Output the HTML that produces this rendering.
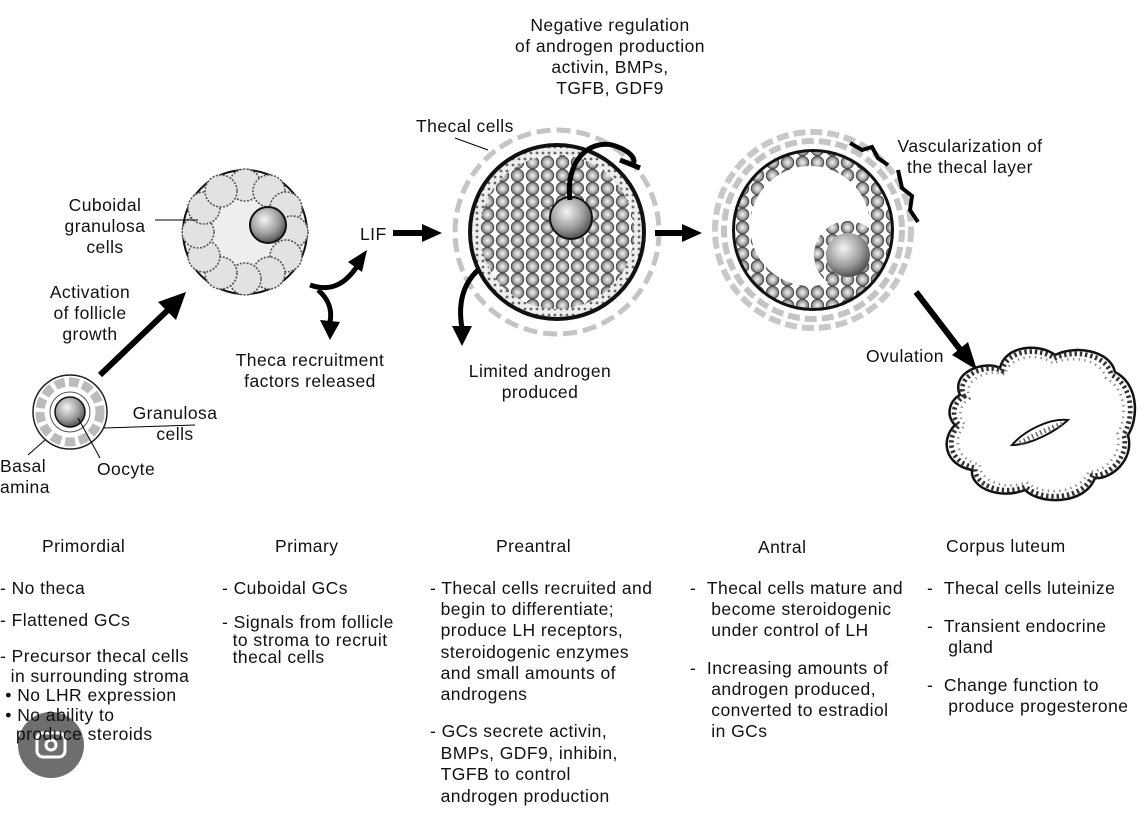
<!DOCTYPE html>
<html><head><meta charset="utf-8"><style>
body{margin:0;background:#fff;}
.w{position:relative;width:1146px;height:818px;overflow:hidden;font-family:"Liberation Sans",sans-serif;color:#111;font-size:17.5px;letter-spacing:0.45px;}
.t{position:absolute;line-height:21px;white-space:nowrap;}
.c{text-align:center;}
</style></head><body><div class="w">
<svg width="1146" height="818" style="position:absolute;left:0;top:0">
<defs>
<radialGradient id="oo" cx="0.4" cy="0.35" r="0.7"><stop offset="0" stop-color="#f4f4f4"/><stop offset="0.6" stop-color="#999"/><stop offset="1" stop-color="#444"/></radialGradient>
<radialGradient id="gc" cx="0.5" cy="0.5" r="0.5"><stop offset="0" stop-color="#f4f4f4"/><stop offset="0.6" stop-color="#b0b0b0"/><stop offset="1" stop-color="#606060"/></radialGradient>
<pattern id="cells" width="15" height="13" patternUnits="userSpaceOnUse">
<rect width="15" height="13" fill="#fff"/>
<circle cx="7.5" cy="6.5" r="6.3" fill="url(#gc)" stroke="#444" stroke-width="0.8"/>
</pattern>
<pattern id="dots" width="6" height="6" patternUnits="userSpaceOnUse"><rect width="6" height="6" fill="#eee"/><circle cx="3" cy="3" r="1.4" fill="#666"/></pattern>
</defs>
<circle cx="70" cy="412" r="37" fill="#fff" stroke="#222" stroke-width="1.5"/>
<circle cx="70" cy="412" r="30" fill="none" stroke="#bbb" stroke-width="9" stroke-dasharray="10 4"/>
<circle cx="70" cy="412" r="20" fill="none" stroke="#555" stroke-width="1"/>
<circle cx="70" cy="412" r="15" fill="url(#oo)" stroke="#111" stroke-width="1.5"/>
<line x1="104" y1="428" x2="195" y2="425" stroke="#000"/>
<line x1="45" y1="440" x2="28" y2="455" stroke="#000"/>
<line x1="78" y1="418" x2="100" y2="458" stroke="#000"/>
<line x1="100" y1="375" x2="170" y2="308" stroke="#000" stroke-width="6"/>
<path d="M186,292 L158,302 L176,320z" fill="#000"/>
<circle cx="245" cy="232" r="62" fill="#eee" stroke="#111" stroke-width="2"/>
<g fill="#e2e2e2" stroke="#555" stroke-width="1.6" stroke-dasharray="2 1.5">
<circle cx="245" cy="185" r="16"/><circle cx="269" cy="191" r="16"/><circle cx="286" cy="208" r="16"/><circle cx="292" cy="232" r="16"/><circle cx="286" cy="256" r="16"/><circle cx="269" cy="273" r="16"/><circle cx="245" cy="279" r="16"/><circle cx="221" cy="273" r="16"/><circle cx="204" cy="256" r="16"/><circle cx="198" cy="232" r="16"/><circle cx="204" cy="208" r="16"/><circle cx="221" cy="191" r="16"/>
</g>
<circle cx="268" cy="225" r="18" fill="url(#oo)" stroke="#111" stroke-width="2"/>
<line x1="155" y1="220" x2="198" y2="220" stroke="#000"/>
<path d="M310,285 C330,292 345,285 358,265" fill="none" stroke="#000" stroke-width="5"/>
<path d="M367,250 L348,262 L362,272z" fill="#000"/>
<path d="M318,290 C330,300 332,312 330,322" fill="none" stroke="#000" stroke-width="5"/>
<path d="M330,340 L320,320 L340,322z" fill="#000"/>
<line x1="393" y1="233" x2="425" y2="233" stroke="#000" stroke-width="6"/>
<path d="M442,233 L422,224 L422,242z" fill="#000"/>
<circle cx="557" cy="232" r="102" fill="none" stroke="#c4c4c4" stroke-width="5" stroke-dasharray="14 6"/>
<circle cx="557" cy="232" r="89" fill="#111"/>
<circle cx="557" cy="232" r="85" fill="url(#dots)"/>
<circle cx="557" cy="232" r="77" fill="url(#cells)"/>
<circle cx="571" cy="218" r="21" fill="url(#oo)" stroke="#111" stroke-width="2"/>
<line x1="455" y1="138" x2="488" y2="150" stroke="#000"/>
<path d="M570,200 C565,160 590,140 612,145 C630,150 638,160 632,165" fill="none" stroke="#000" stroke-width="5"/>
<line x1="620" y1="160" x2="640" y2="168" stroke="#000" stroke-width="5"/>
<path d="M478,270 C462,285 458,305 462,328" fill="none" stroke="#000" stroke-width="5"/>
<path d="M462,346 L452,326 L472,326z" fill="#000"/>
<line x1="655" y1="233" x2="685" y2="233" stroke="#000" stroke-width="6"/>
<path d="M702,233 L682,224 L682,242z" fill="#000"/>
<circle cx="813" cy="230" r="98" fill="none" stroke="#c8c8c8" stroke-width="6" stroke-dasharray="12 5"/>
<circle cx="813" cy="230" r="89" fill="none" stroke="#c4c4c4" stroke-width="6" stroke-dasharray="12 5"/>
<circle cx="813" cy="230" r="81" fill="#111"/>
<circle cx="813" cy="230" r="78" fill="url(#cells)"/>
<circle cx="810" cy="226" r="60" fill="#fff"/>
<circle cx="848" cy="255" r="34" fill="url(#cells)"/>
<circle cx="848" cy="255" r="22" fill="url(#oo)"/>
<path d="M850,143 L862,150 L872,147 L878,158 L888,165" fill="none" stroke="#000" stroke-width="4"/>
<path d="M898,170 L902,188 L912,196 L910,210 L918,222" fill="none" stroke="#000" stroke-width="4"/>
<line x1="916" y1="292" x2="962" y2="352" stroke="#000" stroke-width="6"/>
<path d="M977,370 L952,355 L968,342z" fill="#000"/>
<path d="M960,395 C950,372 985,360 1000,368 C1005,345 1040,343 1055,355 C1075,345 1110,350 1115,372 C1140,385 1138,420 1128,435 C1135,460 1110,480 1095,478 C1085,505 1040,505 1025,490 C1000,500 970,488 972,470 C945,465 940,440 955,425 C945,415 950,400 960,395z" fill="#fff" stroke="#111" stroke-width="2.5"/>
<path d="M960,395 C950,372 985,360 1000,368 C1005,345 1040,343 1055,355 C1075,345 1110,350 1115,372 C1140,385 1138,420 1128,435 C1135,460 1110,480 1095,478 C1085,505 1040,505 1025,490 C1000,500 970,488 972,470 C945,465 940,440 955,425 C945,415 950,400 960,395z" fill="none" stroke="#333" stroke-width="5" stroke-dasharray="2.5 3" transform="translate(1040,425) scale(0.95) translate(-1040,-425)"/>
<path d="M960,395 C950,372 985,360 1000,368 C1005,345 1040,343 1055,355 C1075,345 1110,350 1115,372 C1140,385 1138,420 1128,435 C1135,460 1110,480 1095,478 C1085,505 1040,505 1025,490 C1000,500 970,488 972,470 C945,465 940,440 955,425 C945,415 950,400 960,395z" fill="none" stroke="#888" stroke-width="3" stroke-dasharray="1.5 5" transform="translate(1040,425) scale(0.88) translate(-1040,-425)"/>
<path d="M1012,445 C1025,430 1050,418 1068,420 C1055,432 1030,445 1012,445z" fill="#fff" stroke="#111" stroke-width="2"/>
<path d="M1020,443 C1035,435 1050,428 1062,424" fill="none" stroke="#666" stroke-width="5" stroke-dasharray="1.5 3"/>
<circle cx="51" cy="745" r="33" fill="#555" opacity="0.85"/>
<rect x="37" y="733" width="28" height="24" rx="6" fill="none" stroke="#fff" stroke-width="3"/>
<circle cx="51" cy="745" r="5" fill="none" stroke="#fff" stroke-width="3"/>
</svg>
<div class="t c" style="left:490px;top:15px;width:240px;">Negative regulation<br>of androgen production<br>activin, BMPs,<br>TGFB, GDF9</div>
<div class="t" style="left:416px;top:116px;">Thecal cells</div>
<div class="t c" style="left:870px;top:136px;width:200px;">Vascularization of<br>the thecal layer</div>
<div class="t c" style="left:45px;top:195px;width:120px;">Cuboidal<br>granulosa<br>cells</div>
<div class="t" style="left:360px;top:224px;">LIF</div>
<div class="t c" style="left:35px;top:282px;width:110px;">Activation<br>of follicle<br>growth</div>
<div class="t c" style="left:210px;top:350px;width:200px;">Theca recruitment<br>factors released</div>
<div class="t c" style="left:445px;top:361px;width:190px;">Limited androgen<br>produced</div>
<div class="t" style="left:866px;top:346px;">Ovulation</div>
<div class="t c" style="left:120px;top:403px;width:110px;">Granulosa<br>cells</div>
<div class="t" style="left:0px;top:456px;">Basal<br>amina</div>
<div class="t" style="left:97px;top:459px;">Oocyte</div>
<div class="t" style="left:42px;top:536px;">Primordial</div>
<div class="t" style="left:275px;top:536px;">Primary</div>
<div class="t" style="left:496px;top:536px;">Preantral</div>
<div class="t" style="left:758px;top:537px;">Antral</div>
<div class="t" style="left:946px;top:536px;">Corpus luteum</div>
<div class="t" style="left:0px;top:578px;">- No theca</div>
<div class="t" style="left:0px;top:610px;">- Flattened GCs</div>
<div class="t" style="left:0px;top:647px;line-height:19.5px;">- Precursor thecal cells<br>&nbsp; in surrounding stroma<br>&nbsp;• No LHR expression<br>&nbsp;• No ability to<br>&nbsp;&nbsp;&nbsp;produce steroids</div>
<div class="t" style="left:222px;top:578px;">- Cuboidal GCs</div>
<div class="t" style="left:222px;top:614px;line-height:17.5px;">- Signals from follicle<br>&nbsp;&nbsp;to stroma to recruit<br>&nbsp;&nbsp;thecal cells</div>
<div class="t" style="left:430px;top:578px;line-height:21.2px;">- Thecal cells recruited and<br>&nbsp;&nbsp;begin to differentiate;<br>&nbsp;&nbsp;produce LH receptors,<br>&nbsp;&nbsp;steroidogenic enzymes<br>&nbsp;&nbsp;and small amounts of<br>&nbsp;&nbsp;androgens</div>
<div class="t" style="left:430px;top:721px;line-height:21.5px;">- GCs secrete activin,<br>&nbsp;&nbsp;BMPs, GDF9, inhibin,<br>&nbsp;&nbsp;TGFB to control<br>&nbsp;&nbsp;androgen production</div>
<div class="t" style="left:690px;top:578px;">- &nbsp;Thecal cells mature and<br>&nbsp;&nbsp;&nbsp;&nbsp;become steroidogenic<br>&nbsp;&nbsp;&nbsp;&nbsp;under control of LH</div>
<div class="t" style="left:690px;top:658px;">- &nbsp;Increasing amounts of<br>&nbsp;&nbsp;&nbsp;&nbsp;androgen produced,<br>&nbsp;&nbsp;&nbsp;&nbsp;converted to estradiol<br>&nbsp;&nbsp;&nbsp;&nbsp;in GCs</div>
<div class="t" style="left:927px;top:578px;">- &nbsp;Thecal cells luteinize</div>
<div class="t" style="left:927px;top:616px;">- &nbsp;Transient endocrine<br>&nbsp;&nbsp;&nbsp;&nbsp;gland</div>
<div class="t" style="left:927px;top:675px;">- &nbsp;Change function to<br>&nbsp;&nbsp;&nbsp;&nbsp;produce progesterone</div>
</div></body></html>
